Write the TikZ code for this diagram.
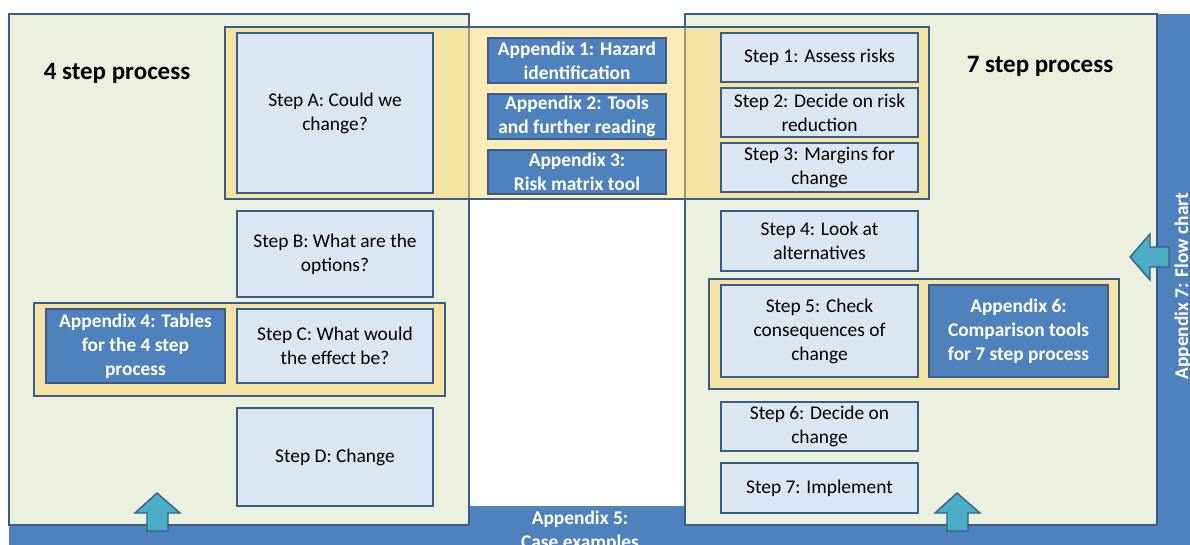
\documentclass[tikz,border=0pt]{standalone}
\usepackage{fontspec}
\setmainfont{Carlito}
\usetikzlibrary{positioning}
\definecolor{frameblue}{HTML}{385D8A}
\definecolor{appblue}{HTML}{4F81BD}
\definecolor{stepfill}{HTML}{DCE6F2}
\definecolor{panelfill}{HTML}{EBF1DE}
\definecolor{bandfill}{HTML}{FFD76B}
\definecolor{arrowfill}{HTML}{4BACC6}
\tikzset {
    x=1pt, y=-1pt,
    node distance=6pt,
    every node/.style={font=\fontsize{19.4}{24}\selectfont},
    stepbox/.style={draw=frameblue, fill=stepfill, line width=1.6pt, align=center, minimum width=196pt, inner sep=2pt, outer sep=0pt},
    appbox/.style={draw=frameblue, fill=appblue, line width=1.6pt, align=center, text=white, font=\fontsize{19.4}{24}\selectfont\bfseries, minimum width=178pt, inner sep=2pt, outer sep=0pt},
    apptext/.style={text=white, align=center, inner sep=0pt, font=\fontsize{19.4}{24}\selectfont\bfseries},
    panel/.style={draw=frameblue, fill=panelfill, line width=1.6pt},
    band/.style={draw=frameblue, fill=bandfill, fill opacity=0.5, line width=1.6pt},
    bigarrow/.style={draw=frameblue, fill=arrowfill, line width=1.4pt, line join=miter},
    title/.style={font=\fontsize{25}{30}\selectfont\bfseries, anchor=base}
}

\begin{document}
\begin{tikzpicture}
                    \useasboundingbox (0,0) rectangle (1190,544);
                    \clip (0,0) rectangle (1190,544);
                    \fill[appblue] (9,506) rectangle (1195,550);
                    \fill[appblue] (1157,14) rectangle (1195,550);
                    \draw[panel] (9,14) rectangle (469,525);
                    \draw[panel] (685,14) rectangle (1157,525);
                    \draw[band] (225,27) rectangle (929,199);
                    \draw[band] (34,303) rectangle (445,396);
                    \draw[band] (709,279) rectangle (1119,389);

                    \node[title] (four) at (117,79) {4 step process};
                    \node[title] (seven) at (1040,72) {7 step process};

                    \node[stepbox, minimum height=160pt] (stepA) at (335,113) {Step A: Could we\\change?};
                    \node[stepbox, minimum height=86pt, below=18pt of stepA] (stepB) {Step B: What are the\\options?};
                    \node[stepbox, minimum height=74pt, below=12pt of stepB] (stepC) {Step C: What would\\the effect be?};
                    \node[stepbox, minimum height=98pt, below=25pt of stepC] (stepD) {Step D: Change};
                    \node[appbox, minimum width=179pt, minimum height=74pt, left=12pt of stepC] (app4) {Appendix 4: Tables\\for the 4 step\\process};

                    \node[appbox, minimum height=45pt] (app1) at (577,60.5) {Appendix 1: Hazard\\identification};
                    \node[appbox, minimum height=44pt, below=11pt of app1] (app2) {Appendix 2: Tools\\and further reading};
                    \node[appbox, minimum height=44pt, below=11pt of app2] (app3) {Appendix 3:\\Risk matrix tool};

                    \node[stepbox, minimum width=197pt, minimum height=49pt] (step1) at (819.5,57.5) {Step 1: Assess risks};
                    \node[stepbox, minimum width=197pt, minimum height=49pt, below=6pt of step1] (step2) {Step 2: Decide on risk\\reduction};
                    \node[stepbox, minimum width=197pt, minimum height=49pt, below=6pt of step2] (step3) {Step 3: Margins for\\change};
                    \node[stepbox, minimum width=197pt, minimum height=60pt, below=19pt of step3] (step4) {Step 4: Look at\\alternatives};
                    \node[stepbox, minimum width=197pt, minimum height=92pt, below=14pt of step4] (step5) {Step 5: Check\\consequences of\\change};
                    \node[stepbox, minimum width=197pt, minimum height=49pt, below=25pt of step5] (step6) {Step 6: Decide on\\change};
                    \node[stepbox, minimum width=197pt, minimum height=50pt, below=12pt of step6] (step7) {Step 7: Implement};
                    \node[appbox, minimum width=179pt, minimum height=92pt, right=11pt of step5] (app6) {Appendix 6:\\Comparison tools\\for 7 step process};

                    \node[apptext] (app5) at (580,531) {Appendix 5:\\Case examples};
                    \node[apptext, rotate=90, anchor=base] (app7) at (1188,286) {Appendix 7: Flow chart};

                    \draw[bigarrow] (157,493) -- (180,513) -- (168,513) -- (168,531) -- (147,531) -- (147,513) -- (135,513) -- cycle;
                    \draw[bigarrow] (957,493) -- (980,513) -- (968,513) -- (968,531) -- (947,531) -- (947,513) -- (935,513) -- cycle;
                    \draw[bigarrow] (1130,257) -- (1150,234) -- (1150,247) -- (1169,247) -- (1169,267) -- (1150,267) -- (1150,280) -- cycle;
\end{tikzpicture}
\end{document}
